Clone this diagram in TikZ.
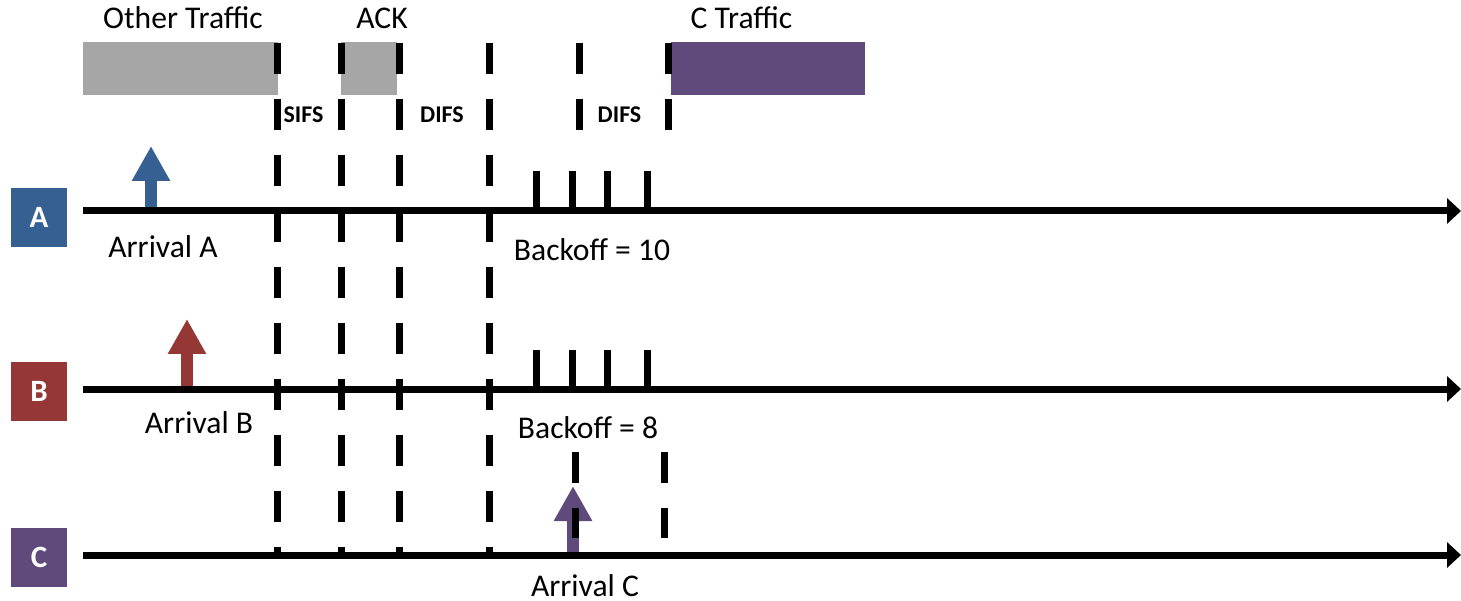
\documentclass[tikz,border=0pt]{standalone}
\usepackage{fontspec}
\setmainfont{Carlito}
\usetikzlibrary{arrows.meta,positioning}
\definecolor{stationA}{HTML}{376092}
\definecolor{stationB}{HTML}{953735}
\definecolor{stationC}{HTML}{604A7B}
\definecolor{busy}{HTML}{A6A6A6}

\begin{document}
\begin{tikzpicture}[x=1pt,y=-1pt,
  every node/.style={font=\fontsize{31.6}{36}\selectfont,inner sep=0pt},
  stationbox/.style={minimum width=56pt,minimum height=59pt,text=white,font=\fontsize{31}{36}\selectfont\bfseries},
  framebox/.style={minimum height=53pt},
  timeline/.style={line width=7pt,-{Triangle[length=14pt,width=25pt]}},
  slotline/.style={line width=7pt,dash pattern=on 31pt off 25pt},
  backofftick/.style={line width=7pt},
  arrival/.style={line width=12pt,-{Triangle[length=35pt,width=36pt]}},
  ifslabel/.style={anchor=base,font=\fontsize{24}{28}\selectfont\bfseries}]
\useasboundingbox (0,0) rectangle (1461,601);

% stations and their time lines
\node[stationbox,fill=stationA] (A) at (39,217.5) {A};
\node[stationbox,fill=stationB] (B) at (39,391.5) {B};
\node[stationbox,fill=stationC] (C) at (39,557.5) {C};
\coordinate (A0) at (83,211);  \coordinate (A1) at (1461,211);
\coordinate (B0) at (83,389);  \coordinate (B1) at (1461,389);
\coordinate (C0) at (83,555);  \coordinate (C1) at (1461,555);

% frames on the medium
\node[framebox,fill=busy,minimum width=195pt] (other) at (180.5,68.5) {};
\node[framebox,fill=busy,minimum width=56pt] (ack) at (369,68.5) {};
\node[framebox,fill=stationC,minimum width=194pt] (ctraffic) at (768,68.5) {};
\node[anchor=base] at (183,29) {Other Traffic};
\node[anchor=base] at (382,29) {ACK};
\node[anchor=base] at (741.5,29) {C Traffic};

% interframe spaces
\foreach \x in {277,341,399,489}
  \draw[slotline] (\x,43) -- (\x,555);
\foreach \x in {579,668}
  \draw[slotline] (\x,43) -- (\x,130);
\node[ifslabel] at (303.5,123) {SIFS};
\node[ifslabel] at (442,123) {DIFS};
\node[ifslabel] at (619.5,123) {DIFS};

% arrivals
\draw[arrival,stationA] (151,211) -- (151,146);
\draw[arrival,stationB] (187,389) -- (187,319);
\draw[arrival,stationC] (573,555) -- (573,486);
\node[anchor=base] at (163,258) {Arrival A};
\node[anchor=base] at (199,433) {Arrival B};
\node[anchor=base] at (585,596) {Arrival C};

% DIFS seen by C
\foreach \x in {575,664}
  \draw[slotline] (\x,452) -- (\x,538);

% time lines
\draw[timeline] (A0) -- (A1);
\draw[timeline] (B0) -- (B1);
\draw[timeline] (C0) -- (C1);

% backoff slots
\foreach \x in {536,572,607,647} {
  \draw[backofftick] (\x,171) -- (\x,211);
  \draw[backofftick] (\x,350) -- (\x,389);
}
\node[anchor=base] at (592,261) {Backoff = 10};
\node[anchor=base] at (588,438) {Backoff = 8};
\end{tikzpicture}
\end{document}
